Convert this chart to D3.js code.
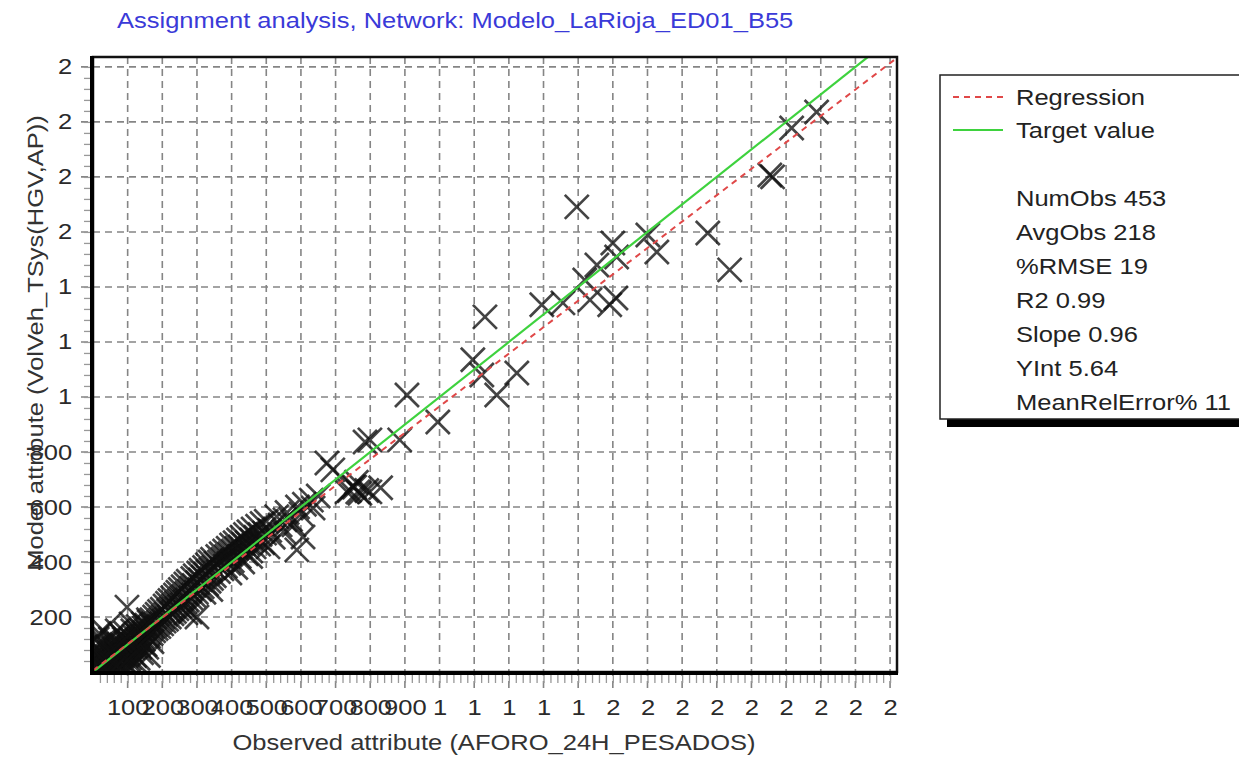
<!DOCTYPE html>
<html>
<head>
<meta charset="utf-8">
<script src="https://cdn.jsdelivr.net/npm/d3@7"></script>
<style>
body{margin:0;background:#fff;}
svg{display:block;font-family:"Liberation Sans",Arial,sans-serif;}
</style>
</head>
<body>
<script>
// ---------------------
// Data (observed, model) pairs
// ---------------------
var lowCluster = [
  [5,8],[10,4],[12,18],[15,10],[18,25],[20,12],[22,30],[25,20],[28,15],[30,35],[32,22],[35,40],
  [38,28],[40,18],[42,45],[45,35],[48,25],[50,55],[52,40],[55,30],[58,60],[60,48],[62,38],[65,70],
  [68,55],[70,42],[72,80],[75,62],[78,50],[80,88],[82,70],[85,58],[88,95],[90,78],[92,65],[95,105],
  [98,85],[100,70],[102,112],[105,92],[108,80],[110,120],[112,100],[115,88],[118,130],[120,108],
  [122,95],[125,138],[128,115],[130,100],[132,145],[135,122],[138,110],[140,152],[142,130],[145,118],
  [148,160],[150,138],[60,10],[80,20],[100,25],[110,15],[125,35],[90,5],[8,60],[15,80],[20,100],
  [30,110],[25,70],[98,236],[70,150],[50,120],[110,175],[40,90],[55,105],[65,115],[85,130],[95,140],
  [120,60],[130,50],[140,70],[105,50],[135,90],[150,100],[45,70],[75,100],[10,40],[35,60],[60,85],
  [90,120],[115,150],[130,165],[145,175],[160,190],[20,55],[40,10],[70,25],[100,45],[18,140],[30,150],
  [5,90],[12,120],[160,60],[170,110],[155,90]
];
var midBand = [
  [155,170],[158,145],[160,130],[162,182],[165,155],[168,140],[170,190],[172,165],[175,150],[178,200],
  [180,172],[182,158],[185,210],[188,180],[190,165],[192,220],[195,190],[198,175],[200,228],[202,200],
  [205,185],[208,240],[210,210],[212,192],[215,250],[218,222],[220,200],[222,260],[225,230],[228,212],
  [230,270],[232,240],[235,220],[238,280],[240,250],[242,230],[245,290],[248,258],[250,238],[252,300],
  [255,268],[258,245],[260,310],[262,275],[265,255],[268,320],[270,285],[272,262],[275,330],[278,295],
  [280,218],[282,270],[285,305],[288,340],[290,280],[292,315],[295,350],[298,290],[300,200],[302,325],
  [305,360],[308,300],[310,335],[312,370],[315,310],[318,345],[320,290],[322,380],[325,355],[328,320],
  [330,390],[332,365],[335,330],[338,400],[340,372],[342,340],[345,410],[348,380],[350,350],
  [355,395],[360,420],[362,365],[365,400],[370,430],[372,375],[375,410],[380,440],[382,385],[385,420],
  [390,450],[392,395],[395,430],[400,462],[402,405],[405,440],[410,470],[412,380],[415,450],[420,480],
  [422,420],[425,455],[430,490],[432,400],[435,465],[440,500],[442,430],[445,470],[450,510],[455,440],
  [458,480],[462,520],[465,455],[470,490],[475,530],[478,465],[482,500],[488,540],[490,470],[495,505],
  [500,548],[510,515],[520,490],[530,565],[540,535],[550,510],[560,580],[570,555],[580,535],[590,600],
  [600,575],[606,491],[588,444],[554,553],[635,596],[610,610],[630,625],[650,640],[268,215],[340,300],
  [395,360],[455,420],[505,455]
];
var upperPoints = [
  [692,735],[675,760],[750,673],[764,655],[830,670],[799,655],[733,655],[740,660],[755,672],[770,650],
  [760,690],[790,660],[785,836],[799,844],[885,844],[906,1007],[995,909],[1096,1135],[1122,1080],
  [1223,1087],[1165,1007],[1131,1291],[1295,1335],[1356,1342],[1434,1353],[1509,1360],[1491,1335],
  [1419,1425],[1454,1480],[1500,1560],[1511,1509],[1396,1691],[1601,1589],[1627,1527],[1774,1596],
  [1837,1462],[1953,1807],[1961,1800],[2016,1978],[2088,2036]
];

var xTicks = [100,200,300,400,500,600,700,800,900,1000,1100,1200,1300,1400,1500,1600,1700,1800,1900,2000,2100,2200,2300];
var xTickLabels = ["100","200","300","400","500","600","700","800","900","1","1","1","1","1","2","2","2","2","2","2","2","2","2"];
var yTicks = [200,400,600,800,1000,1200,1400,1600,1800,2000,2200];
var yTickLabels = ["200","400","600","800","1","1","1","2","2","2","2"];

var statNames = ["NumObs","AvgObs","%RMSE","R2","Slope","YInt","MeanRelError%"];
var statValues = ["453","218","19","0.99","0.96","5.64","11"];
var slope = 0.96, yInt = 5.64;
var xMax = 2320, yMax = 2236;

var w = 1239, h = 757;
var plotL = 93, plotR = 897, plotT = 57, plotB = 672;
var stretch = "scale(1.16,1)";   // the source picture is wider than a plain font

var svg = d3.select("body").append("svg").attr("width", w).attr("height", h);

var x = d3.scaleLinear().domain([0, xMax]).range([plotL, plotR]);
var y = d3.scaleLinear().domain([0, yMax]).range([plotB, plotT]);

svg.append("clipPath").attr("id", "plotclip")
  .append("rect").attr("x", plotL).attr("y", plotT)
  .attr("width", plotR - plotL).attr("height", plotB - plotT);

// grid
var grid = svg.append("g");
grid.selectAll("line.gx").data(xTicks).enter().append("line")
  .attr("x1", function(d){ return x(d); }).attr("x2", function(d){ return x(d); })
  .attr("y1", plotT).attr("y2", plotB + 16);
grid.selectAll("line.gy").data(yTicks).enter().append("line")
  .attr("y1", function(d){ return y(d); }).attr("y2", function(d){ return y(d); })
  .attr("x1", plotL - 12).attr("x2", plotR);
grid.selectAll("line").attr("stroke", "#858585").attr("stroke-width", 1.6).attr("stroke-dasharray", "7,5");

// minor ticks
var xMinor = svg.append("g").attr("transform", "translate(0," + (plotB + 2) + ")")
  .call(d3.axisBottom(x).tickValues(d3.range(20, xMax, 20)).tickSize(9).tickFormat(""));
var yMinor = svg.append("g").attr("transform", "translate(" + (plotL - 2) + ",0)")
  .call(d3.axisLeft(y).tickValues(d3.range(40, yMax, 40)).tickSize(7).tickFormat(""));
[xMinor, yMinor].forEach(function(g){
  g.select(".domain").remove();
  g.selectAll("line").attr("stroke", "#999").attr("stroke-width", 1.3);
});

// tick labels
var xAxis = svg.append("g").attr("transform", "translate(0," + plotB + ")")
  .call(d3.axisBottom(x).tickValues(xTicks).tickSize(0).tickPadding(27)
    .tickFormat(function(d, i){ return xTickLabels[i]; }));
var yAxis = svg.append("g").attr("transform", "translate(" + plotL + ",0)")
  .call(d3.axisLeft(y).tickValues(yTicks).tickSize(0).tickPadding(18)
    .tickFormat(function(d, i){ return yTickLabels[i]; }));
[xAxis, yAxis].forEach(function(g){
  g.select(".domain").remove();
  g.selectAll("text").attr("font-size", 22).attr("fill", "#2a2a2a").attr("transform", stretch)
    .style("font-family", "'Liberation Sans', Arial, sans-serif");
});

// markers
var allPoints = lowCluster.concat(midBand, upperPoints);
svg.append("g").attr("clip-path", "url(#plotclip)")
  .selectAll("path").data(allPoints).enter().append("path")
  .attr("d", "M-12,-12L12,12M-12,12L12,-12")
  .attr("transform", function(d){ return "translate(" + x(d[0]) + "," + y(d[1]) + ")"; })
  .attr("fill", "none").attr("stroke", "rgba(15,15,15,0.78)").attr("stroke-width", 2.7);

// target and regression
var lines = svg.append("g").attr("clip-path", "url(#plotclip)");
lines.append("line")
  .attr("x1", x(0)).attr("y1", y(0)).attr("x2", x(xMax)).attr("y2", y(xMax))
  .attr("stroke", "#3ed23e").attr("stroke-width", 2.2);
lines.append("line")
  .attr("x1", x(0)).attr("y1", y(yInt)).attr("x2", x(xMax)).attr("y2", y(slope * xMax + yInt))
  .attr("stroke", "#e04848").attr("stroke-width", 2).attr("stroke-dasharray", "6,5");

// frame
svg.append("rect").attr("x", plotL).attr("y", plotT)
  .attr("width", plotR - plotL).attr("height", plotB - plotT)
  .attr("fill", "none").attr("stroke", "#111").attr("stroke-width", 2.5);
svg.append("line").attr("x1", plotL - 1).attr("x2", plotL - 1).attr("y1", plotT - 1).attr("y2", plotB + 2)
  .attr("stroke", "#000").attr("stroke-width", 4);
svg.append("line").attr("x1", plotL - 3).attr("x2", plotR + 1).attr("y1", plotB + 1).attr("y2", plotB + 1)
  .attr("stroke", "#000").attr("stroke-width", 4);

// titles
svg.append("text").attr("transform", "translate(117,28) " + stretch)
  .attr("font-size", 22).attr("fill", "#3a3ad8")
  .text("Assignment analysis, Network: Modelo_LaRioja_ED01_B55");
svg.append("text").attr("transform", "translate(494,750) " + stretch).attr("text-anchor", "middle")
  .attr("font-size", 22).attr("fill", "#333")
  .text("Observed attribute (AFORO_24H_PESADOS)");
svg.append("text").attr("transform", "translate(43,343) rotate(-90) " + stretch).attr("text-anchor", "middle")
  .attr("font-size", 22).attr("fill", "#333")
  .text("Model attribute (VolVeh_TSys(HGV,AP))");

// legend
var lg = svg.append("g");
lg.append("rect").attr("x", 947).attr("y", 82).attr("width", 310).attr("height", 345).attr("fill", "#000");
lg.append("rect").attr("x", 940).attr("y", 75).attr("width", 310).attr("height", 344)
  .attr("fill", "#fff").attr("stroke", "#222").attr("stroke-width", 1.5);
lg.append("line").attr("x1", 953).attr("x2", 1003).attr("y1", 97).attr("y2", 97)
  .attr("stroke", "#e04848").attr("stroke-width", 2).attr("stroke-dasharray", "6,5");
lg.append("line").attr("x1", 953).attr("x2", 1003).attr("y1", 130).attr("y2", 130)
  .attr("stroke", "#3ed23e").attr("stroke-width", 2.2);
lg.append("text").attr("transform", "translate(1016,105) " + stretch)
  .attr("font-size", 22).attr("fill", "#222").text("Regression");
lg.append("text").attr("transform", "translate(1016,138) " + stretch)
  .attr("font-size", 22).attr("fill", "#222").text("Target value");
lg.selectAll("text.stat").data(statNames).enter().append("text")
  .attr("class", "stat")
  .attr("transform", function(d, i){ return "translate(1016," + (206 + i * 34) + ") " + stretch; })
  .attr("font-size", 22).attr("fill", "#222")
  .text(function(d, i){ return d + " " + statValues[i]; });
</script>
</body>
</html>
